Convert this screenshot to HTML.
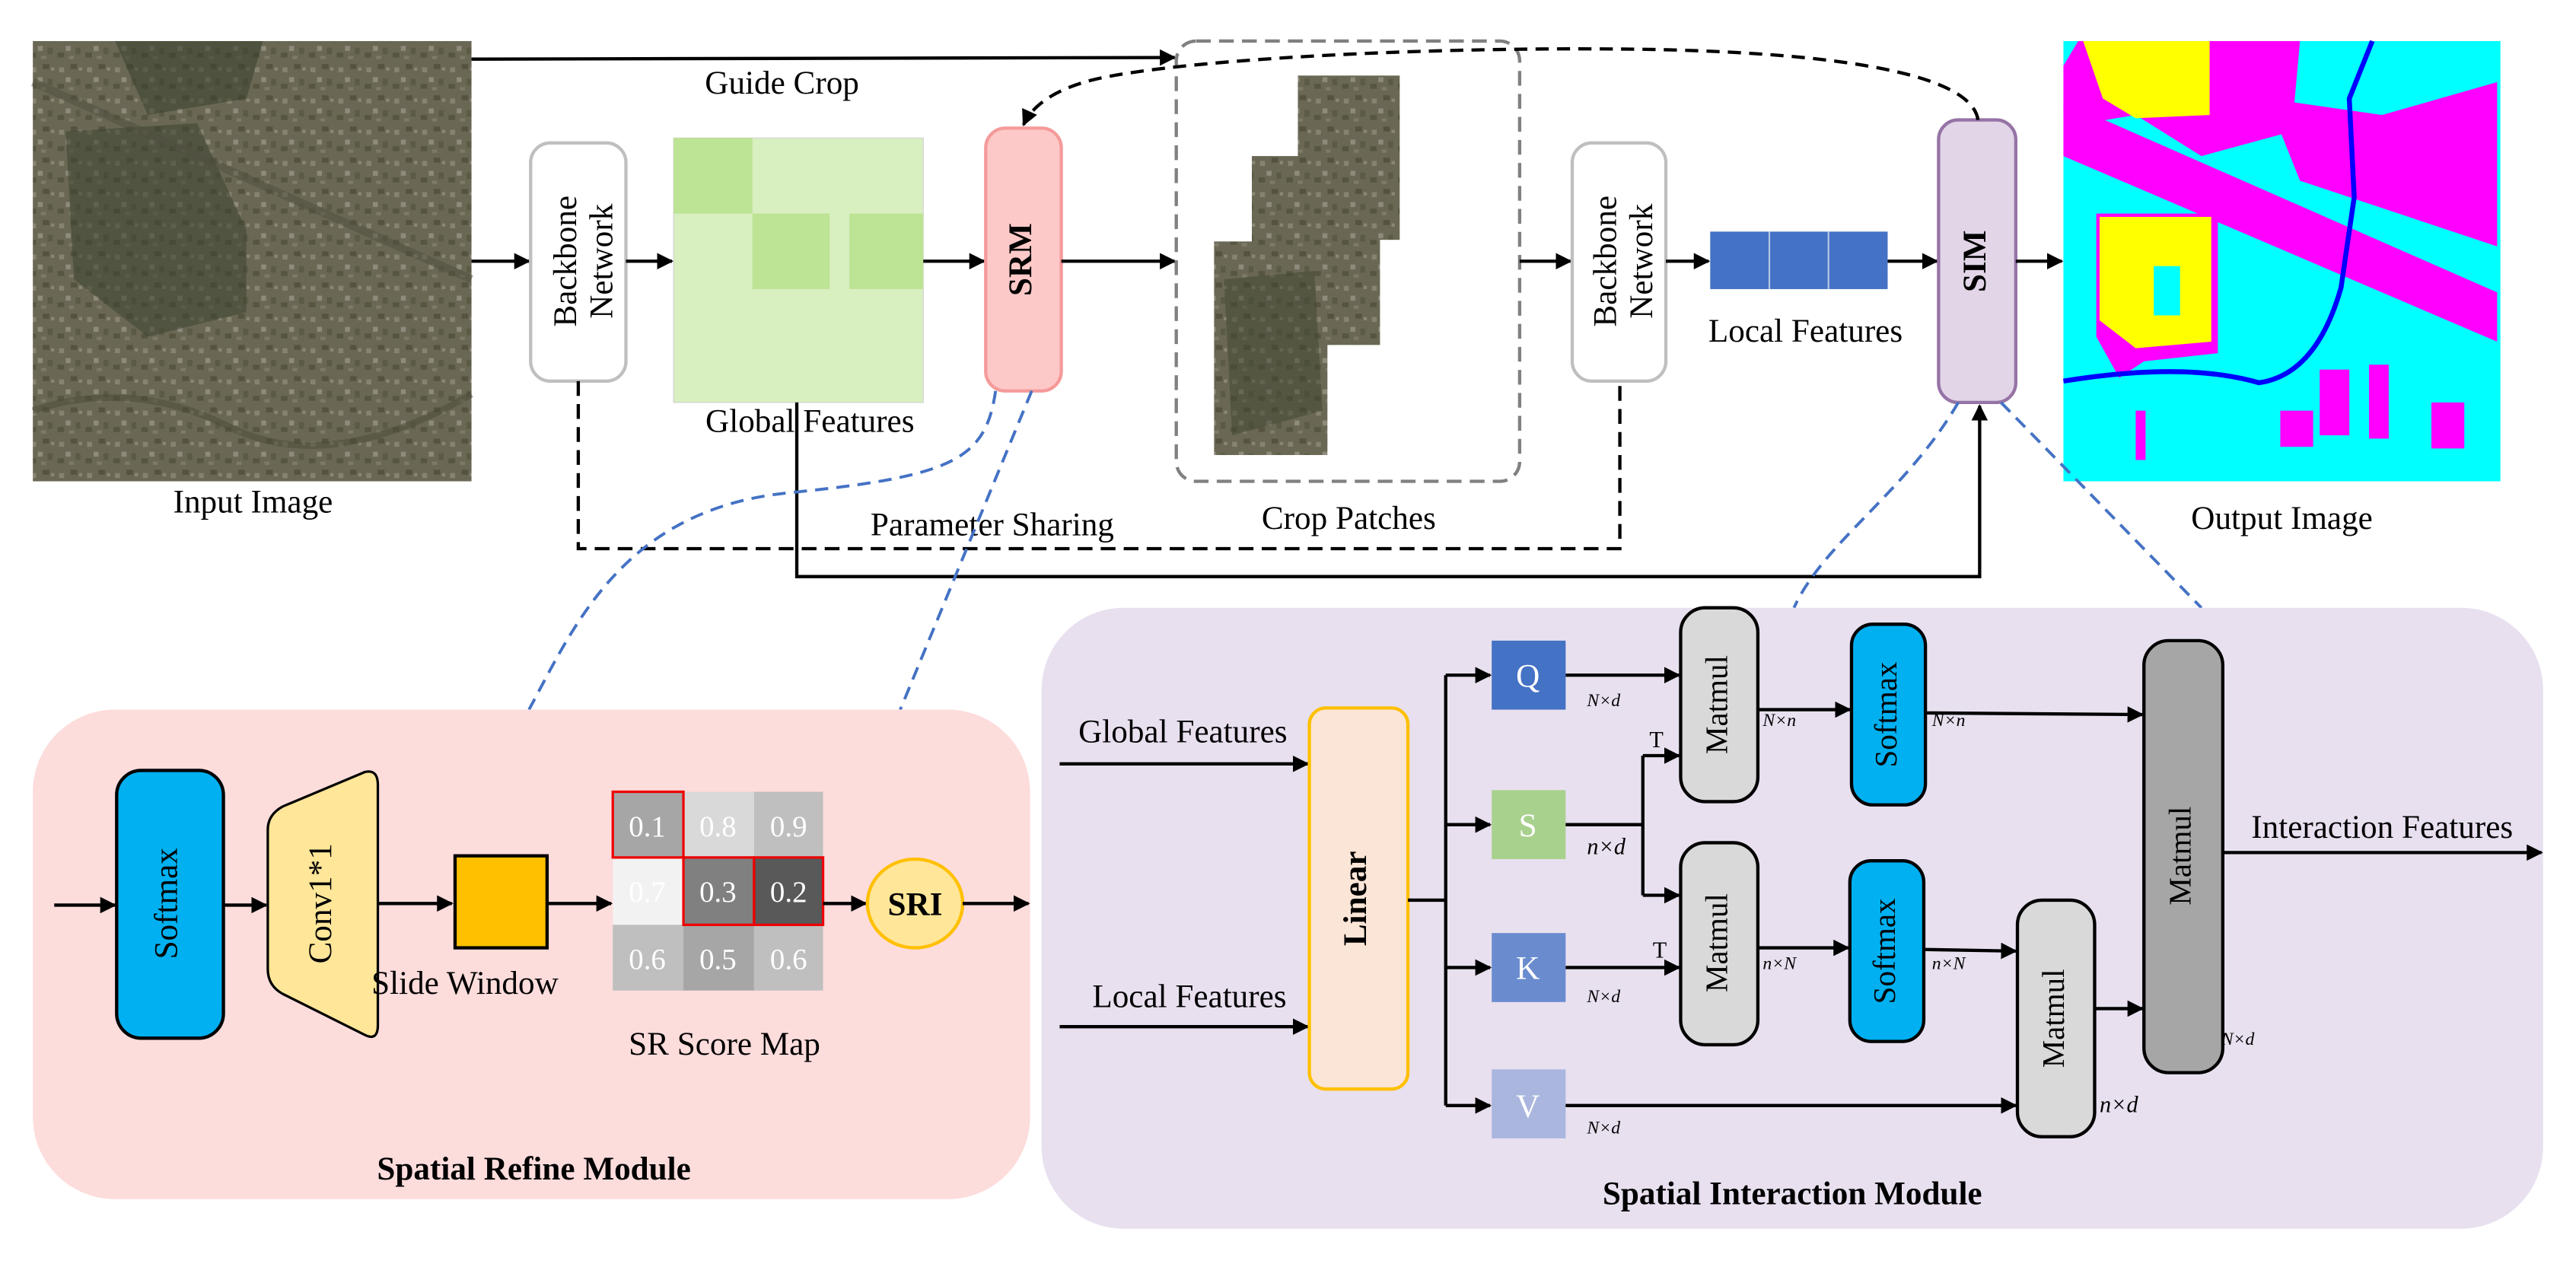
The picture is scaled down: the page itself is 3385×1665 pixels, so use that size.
<!DOCTYPE html>
<html><head><meta charset="utf-8"><style>
html,body{margin:0;padding:0;background:#fff}
svg{display:block}
text{font-family:"Liberation Serif",serif;fill:#000}
</style></head><body>
<svg width="3385" height="1665" viewBox="0 0 1568 771.3" preserveAspectRatio="none" xmlns="http://www.w3.org/2000/svg">
<defs>
<marker id="a" markerWidth="10" markerHeight="10" refX="9" refY="5" orient="auto" markerUnits="userSpaceOnUse"><path d="M0,0 L10,5 L0,10 z" fill="#000"/></marker>
<pattern id="sat" width="17" height="19" patternUnits="userSpaceOnUse">
<rect width="17" height="19" fill="#6a6854"/>
<rect x="2" y="3" width="3" height="3" fill="#87836f"/><rect x="9" y="1" width="4" height="3" fill="#55533f"/>
<rect x="6" y="9" width="3" height="3" fill="#8f8b7c"/><rect x="12" y="10" width="3" height="4" fill="#5b5a45"/>
<rect x="1" y="13" width="4" height="3" fill="#56553f"/><rect x="8" y="15" width="3" height="2" fill="#7e7a68"/>
<rect x="14" y="3" width="2" height="2" fill="#8a8674"/>
</pattern>
</defs>

<!-- Input image -->
<rect x="20" y="25" width="267" height="268" fill="url(#sat)"/>
<path d="M40,80 L120,75 L150,140 L150,190 L90,205 L45,170 Z" fill="#3d4330" opacity="0.55"/>
<path d="M70,25 L160,25 L150,60 L90,70 Z" fill="#36402c" opacity="0.55"/>
<path d="M20,50 L287,170" stroke="#505040" stroke-width="5" opacity="0.5"/>
<path d="M20,250 Q80,230 140,260 T287,240" stroke="#4a4a38" stroke-width="4" fill="none" opacity="0.5"/>
<text x="154" y="312" font-size="20" text-anchor="middle">Input Image</text>

<!-- Guide crop -->
<line x1="287" y1="36" x2="715" y2="35" stroke="#000" stroke-width="2" marker-end="url(#a)"/>
<text x="476" y="57" font-size="20" text-anchor="middle">Guide Crop</text>

<!-- backbone 1 -->
<line x1="287" y1="159" x2="322" y2="159" stroke="#000" stroke-width="2" marker-end="url(#a)"/>
<rect x="323" y="87" width="58" height="145" rx="12" fill="#fff" stroke="#bfbfbf" stroke-width="2"/>
<text transform="translate(346,159) rotate(-90)" font-size="20" text-anchor="middle" dominant-baseline="middle">Backbone</text>
<text transform="translate(368,159) rotate(-90)" font-size="20" text-anchor="middle" dominant-baseline="middle">Network</text>
<line x1="381" y1="159" x2="409" y2="159" stroke="#000" stroke-width="2" marker-end="url(#a)"/>

<!-- Global features -->
<rect x="410" y="84" width="152" height="161" fill="#d8efc0" stroke="#cfcfcf" stroke-width="0.5"/>
<rect x="410" y="84" width="48" height="46" fill="#bde395"/>
<rect x="458" y="130" width="47" height="46" fill="#bde395"/>
<rect x="517" y="130" width="45" height="46" fill="#bde395"/>
<text x="493" y="263" font-size="20" text-anchor="middle">Global Features</text>
<line x1="562" y1="159" x2="599" y2="159" stroke="#000" stroke-width="2" marker-end="url(#a)"/>

<!-- SRM -->
<rect x="600" y="78" width="46" height="160" rx="12" fill="#fdc9c8" stroke="#f59a9a" stroke-width="2"/>
<text transform="translate(623,158) rotate(-90)" font-size="20" font-weight="bold" text-anchor="middle" dominant-baseline="middle">SRM</text>
<line x1="646" y1="159" x2="715" y2="159" stroke="#000" stroke-width="2" marker-end="url(#a)"/>

<!-- crop patches -->
<rect x="716" y="25" width="209" height="268" rx="12" fill="none" stroke="#808080" stroke-width="2" stroke-dasharray="9,5"/>
<rect x="790" y="46" width="62" height="100" fill="url(#sat)"/>
<rect x="762" y="95" width="78" height="115" fill="url(#sat)"/>
<rect x="739" y="147" width="69" height="130" fill="url(#sat)"/>
<path d="M745,170 L800,165 L805,250 L750,265 Z" fill="#3d4330" opacity="0.5"/>
<text x="821" y="322" font-size="20" text-anchor="middle">Crop Patches</text>
<line x1="925" y1="159" x2="956" y2="159" stroke="#000" stroke-width="2" marker-end="url(#a)"/>

<!-- backbone 2 -->
<rect x="957" y="87" width="57" height="145" rx="12" fill="#fff" stroke="#bfbfbf" stroke-width="2"/>
<text transform="translate(979,159) rotate(-90)" font-size="20" text-anchor="middle" dominant-baseline="middle">Backbone</text>
<text transform="translate(1001,159) rotate(-90)" font-size="20" text-anchor="middle" dominant-baseline="middle">Network</text>
<line x1="1014" y1="159" x2="1040" y2="159" stroke="#000" stroke-width="2" marker-end="url(#a)"/>

<!-- local features -->
<rect x="1041" y="141" width="108" height="35" fill="#4472c4"/>
<line x1="1077" y1="141" x2="1077" y2="176" stroke="#b4c7e7" stroke-width="1"/>
<line x1="1113" y1="141" x2="1113" y2="176" stroke="#b4c7e7" stroke-width="1"/>
<text x="1099" y="208" font-size="20" text-anchor="middle">Local Features</text>
<line x1="1149" y1="159" x2="1179" y2="159" stroke="#000" stroke-width="2" marker-end="url(#a)"/>

<!-- SIM -->
<rect x="1180" y="73" width="47" height="172" rx="12" fill="#e1d5e7" stroke="#9673a6" stroke-width="2"/>
<text transform="translate(1204,159) rotate(-90)" font-size="20" font-weight="bold" text-anchor="middle" dominant-baseline="middle">SIM</text>
<line x1="1227" y1="159" x2="1255" y2="159" stroke="#000" stroke-width="2" marker-end="url(#a)"/>

<!-- output image -->
<rect x="1256" y="25" width="266" height="268" fill="#00ffff"/>
<path d="M1256,40 L1265,25 L1400,25 L1395,80 L1340,95 L1300,70 L1270,75 L1256,70 Z" fill="#ff00ff"/>
<path d="M1268,25 L1345,25 L1345,70 L1300,72 L1280,60 Z" fill="#ffff00"/>
<path d="M1256,62 L1520,178 L1520,208 L1256,95 Z" fill="#ff00ff"/>
<path d="M1380,60 L1450,70 L1520,50 L1520,150 L1400,110 Z" fill="#ff00ff"/>
<path d="M1276,130 L1350,130 L1350,215 L1305,220 L1290,230 L1276,205 Z" fill="#ff00ff"/>
<path d="M1278,132 L1346,132 L1346,208 L1300,212 L1278,195 Z" fill="#ffff00"/>
<rect x="1311" y="162" width="16" height="30" fill="#00ffff"/>
<path d="M1256,232 Q1330,220 1375,233 Q1410,228 1425,175 L1433,120 L1430,60 L1444,25" fill="none" stroke="#0000ff" stroke-width="3"/>
<rect x="1412" y="225" width="18" height="40" fill="#ff00ff"/><rect x="1442" y="222" width="12" height="45" fill="#ff00ff"/>
<rect x="1480" y="245" width="20" height="28" fill="#ff00ff"/><rect x="1388" y="250" width="20" height="22" fill="#ff00ff"/>
<rect x="1300" y="250" width="6" height="30" fill="#ff00ff"/>
<text x="1389" y="322" font-size="20" text-anchor="middle">Output Image</text>

<!-- dashed curve SIM->SRM -->
<path d="M1204,73 C1200,45 1120,32 1000,30 C850,28 700,38 660,50 C640,56 628,65 623,76" fill="none" stroke="#000" stroke-width="2" stroke-dasharray="8,5" marker-end="url(#a)"/>

<!-- parameter sharing -->
<path d="M352,232 L352,334 L986,334 L986,232" fill="none" stroke="#000" stroke-width="2" stroke-dasharray="9,5"/>
<text x="604" y="326" font-size="20" text-anchor="middle">Parameter Sharing</text>
<path d="M485,245 L485,351 L1205,351 L1205,247" fill="none" stroke="#000" stroke-width="2" marker-end="url(#a)"/>

<!-- blue dashed -->
<g fill="none" stroke="#4472c4" stroke-width="1.8" stroke-dasharray="8,5">
<path d="M606,238 C600,280 580,290 480,300 C380,310 350,380 322,432"/>
<path d="M628,238 L548,432"/>
<path d="M1192,245 C1160,300 1110,330 1092,370"/>
<path d="M1218,245 L1340,370"/>
</g>

<!-- SRM panel -->
<rect x="20" y="432" width="607" height="298" rx="50" fill="#fddcdc"/>
<line x1="33" y1="551" x2="70" y2="551" stroke="#000" stroke-width="2" marker-end="url(#a)"/>
<rect x="71" y="469" width="65" height="163" rx="15" fill="#00b0f0" stroke="#000" stroke-width="2"/>
<text transform="translate(103,550) rotate(-90)" font-size="20" text-anchor="middle" dominant-baseline="middle">Softmax</text>
<line x1="136" y1="551" x2="162" y2="551" stroke="#000" stroke-width="2" marker-end="url(#a)"/>
<path d="M163,505 Q163,496 172,491 L222,470 Q230,468 230,478 L230,624 Q230,634 222,630 L172,605 Q163,600 163,590 Z" fill="#ffe699" stroke="#000" stroke-width="1.5"/>
<text transform="translate(197,550) rotate(-90)" font-size="20" text-anchor="middle" dominant-baseline="middle">Conv1*1</text>
<line x1="230" y1="550" x2="275" y2="550" stroke="#000" stroke-width="2" marker-end="url(#a)"/>
<rect x="277" y="521" width="56" height="56" fill="#ffc000" stroke="#000" stroke-width="2"/>
<text x="283" y="605" font-size="20" text-anchor="middle">Slide Window</text>
<line x1="333" y1="550" x2="372" y2="550" stroke="#000" stroke-width="2" marker-end="url(#a)"/>
<g font-family="Liberation Sans,sans-serif">
<rect x="373" y="482" width="43" height="40" fill="#a6a6a6"/><rect x="416" y="482" width="43" height="40" fill="#d9d9d9"/><rect x="459" y="482" width="42" height="40" fill="#bfbfbf"/>
<rect x="373" y="522" width="43" height="41" fill="#f2f2f2"/><rect x="416" y="522" width="43" height="41" fill="#808080"/><rect x="459" y="522" width="42" height="41" fill="#595959"/>
<rect x="373" y="563" width="43" height="40" fill="#bfbfbf"/><rect x="416" y="563" width="43" height="40" fill="#a6a6a6"/><rect x="459" y="563" width="42" height="40" fill="#bfbfbf"/>
<rect x="373" y="482" width="43" height="40" fill="none" stroke="#e00" stroke-width="1.5"/>
<rect x="416" y="522" width="43" height="41" fill="none" stroke="#e00" stroke-width="1.5"/>
<rect x="459" y="522" width="42" height="41" fill="none" stroke="#e00" stroke-width="1.5"/>
<g font-size="18" text-anchor="middle">
<text x="394" y="509" style="fill:#fff">0.1</text><text x="437" y="509" style="fill:#fff">0.8</text><text x="480" y="509" style="fill:#fff">0.9</text>
<text x="394" y="549" style="fill:#fff">0.7</text><text x="437" y="549" style="fill:#fff">0.3</text><text x="480" y="549" style="fill:#fff">0.2</text>
<text x="394" y="590" style="fill:#fff">0.6</text><text x="437" y="590" style="fill:#fff">0.5</text><text x="480" y="590" style="fill:#fff">0.6</text>
</g></g>
<text x="441" y="642" font-size="20" text-anchor="middle">SR Score Map</text>
<line x1="501" y1="550" x2="527" y2="550" stroke="#000" stroke-width="2" marker-end="url(#a)"/>
<ellipse cx="557" cy="550" rx="29" ry="27" fill="#ffe699" stroke="#ffc000" stroke-width="2"/>
<text x="557" y="557" font-size="20" font-weight="bold" text-anchor="middle">SRI</text>
<line x1="586" y1="550" x2="626" y2="550" stroke="#000" stroke-width="2" marker-end="url(#a)"/>
<text x="325" y="718" font-size="20" font-weight="bold" text-anchor="middle">Spatial Refine Module</text>

<!-- SIM panel -->
<rect x="634" y="370" width="914" height="378" rx="50" fill="#e8e0ef"/>
<text x="720" y="452" font-size="20" text-anchor="middle">Global Features</text>
<line x1="645" y1="465" x2="796" y2="465" stroke="#000" stroke-width="2" marker-end="url(#a)"/>
<text x="724" y="613" font-size="20" text-anchor="middle">Local Features</text>
<line x1="645" y1="625" x2="796" y2="625" stroke="#000" stroke-width="2" marker-end="url(#a)"/>
<rect x="797" y="431" width="60" height="232" rx="10" fill="#fbe5d6" stroke="#ffc000" stroke-width="2"/>
<text transform="translate(827,547) rotate(-90)" font-size="20" font-weight="bold" text-anchor="middle" dominant-baseline="middle">Linear</text>
<path d="M857,548 L880,548 M880,411 L880,673" stroke="#000" stroke-width="2" fill="none"/>
<line x1="880" y1="411" x2="907" y2="411" stroke="#000" stroke-width="2" marker-end="url(#a)"/>
<line x1="880" y1="502" x2="907" y2="502" stroke="#000" stroke-width="2" marker-end="url(#a)"/>
<line x1="880" y1="589" x2="907" y2="589" stroke="#000" stroke-width="2" marker-end="url(#a)"/>
<line x1="880" y1="673" x2="907" y2="673" stroke="#000" stroke-width="2" marker-end="url(#a)"/>
<rect x="908" y="390" width="45" height="42" fill="#4472c4"/>
<rect x="908" y="481" width="45" height="42" fill="#a9d18e"/>
<rect x="908" y="568" width="45" height="42" fill="#6a8ccf"/>
<rect x="908" y="651" width="45" height="42" fill="#aab6de"/>
<g font-size="20" text-anchor="middle">
<text x="930" y="418" style="fill:#fff">Q</text><text x="930" y="509" style="fill:#fff">S</text>
<text x="930" y="596" style="fill:#fff">K</text><text x="930" y="680" style="fill:#fff">V</text>
</g>
<g font-size="11" font-style="italic">
<text x="966" y="430">N×d</text><text x="966" y="520" font-size="14">n×d</text>
<text x="966" y="610">N×d</text><text x="966" y="690">N×d</text>
<text x="1073" y="442">N×n</text><text x="1176" y="442">N×n</text>
<text x="1073" y="590">n×N</text><text x="1176" y="590">n×N</text>
<text x="1278" y="677" font-size="14">n×d</text><text x="1352" y="636">N×d</text>
</g>
<line x1="953" y1="411" x2="1022" y2="411" stroke="#000" stroke-width="2" marker-end="url(#a)"/>
<path d="M953,502 L1000,502 M1000,460 L1000,545" stroke="#000" stroke-width="2" fill="none"/>
<line x1="1000" y1="460" x2="1022" y2="460" stroke="#000" stroke-width="2" marker-end="url(#a)"/>
<line x1="1000" y1="545" x2="1022" y2="545" stroke="#000" stroke-width="2" marker-end="url(#a)"/>
<text x="1004" y="455" font-size="14">T</text>
<line x1="953" y1="589" x2="1022" y2="589" stroke="#000" stroke-width="2" marker-end="url(#a)"/>
<text x="1006" y="583" font-size="14">T</text>
<rect x="1023" y="370" width="47" height="118" rx="15" fill="#d9d9d9" stroke="#000" stroke-width="2"/>
<text transform="translate(1047,429) rotate(-90)" font-size="19" text-anchor="middle" dominant-baseline="middle">Matmul</text>
<rect x="1023" y="513" width="47" height="123" rx="15" fill="#d9d9d9" stroke="#000" stroke-width="2"/>
<text transform="translate(1047,574) rotate(-90)" font-size="19" text-anchor="middle" dominant-baseline="middle">Matmul</text>
<line x1="1070" y1="432" x2="1126" y2="432" stroke="#000" stroke-width="2" marker-end="url(#a)"/>
<line x1="1070" y1="577" x2="1125" y2="577" stroke="#000" stroke-width="2" marker-end="url(#a)"/>
<rect x="1127" y="380" width="45" height="110" rx="13" fill="#00b0f0" stroke="#000" stroke-width="2"/>
<text transform="translate(1150,435) rotate(-90)" font-size="19" text-anchor="middle" dominant-baseline="middle">Softmax</text>
<rect x="1126" y="524" width="45" height="110" rx="13" fill="#00b0f0" stroke="#000" stroke-width="2"/>
<text transform="translate(1149,579) rotate(-90)" font-size="19" text-anchor="middle" dominant-baseline="middle">Softmax</text>
<line x1="1171" y1="578" x2="1227" y2="579" stroke="#000" stroke-width="2" marker-end="url(#a)"/>
<line x1="953" y1="673" x2="1227" y2="673" stroke="#000" stroke-width="2" marker-end="url(#a)"/>
<rect x="1228" y="548" width="47" height="144" rx="15" fill="#d9d9d9" stroke="#000" stroke-width="2"/>
<text transform="translate(1252,620) rotate(-90)" font-size="19" text-anchor="middle" dominant-baseline="middle">Matmul</text>
<line x1="1172" y1="434" x2="1304" y2="435" stroke="#000" stroke-width="2" marker-end="url(#a)"/>
<line x1="1275" y1="614" x2="1304" y2="614" stroke="#000" stroke-width="2" marker-end="url(#a)"/>
<rect x="1305" y="390" width="48" height="263" rx="15" fill="#a6a6a6" stroke="#000" stroke-width="2"/>
<text transform="translate(1329,521) rotate(-90)" font-size="19" text-anchor="middle" dominant-baseline="middle">Matmul</text>
<line x1="1353" y1="519" x2="1547" y2="519" stroke="#000" stroke-width="2" marker-end="url(#a)"/>
<text x="1450" y="510" font-size="20" text-anchor="middle">Interaction Features</text>
<text x="1091" y="733" font-size="20" font-weight="bold" text-anchor="middle">Spatial Interaction Module</text>
</svg>
</body></html>
